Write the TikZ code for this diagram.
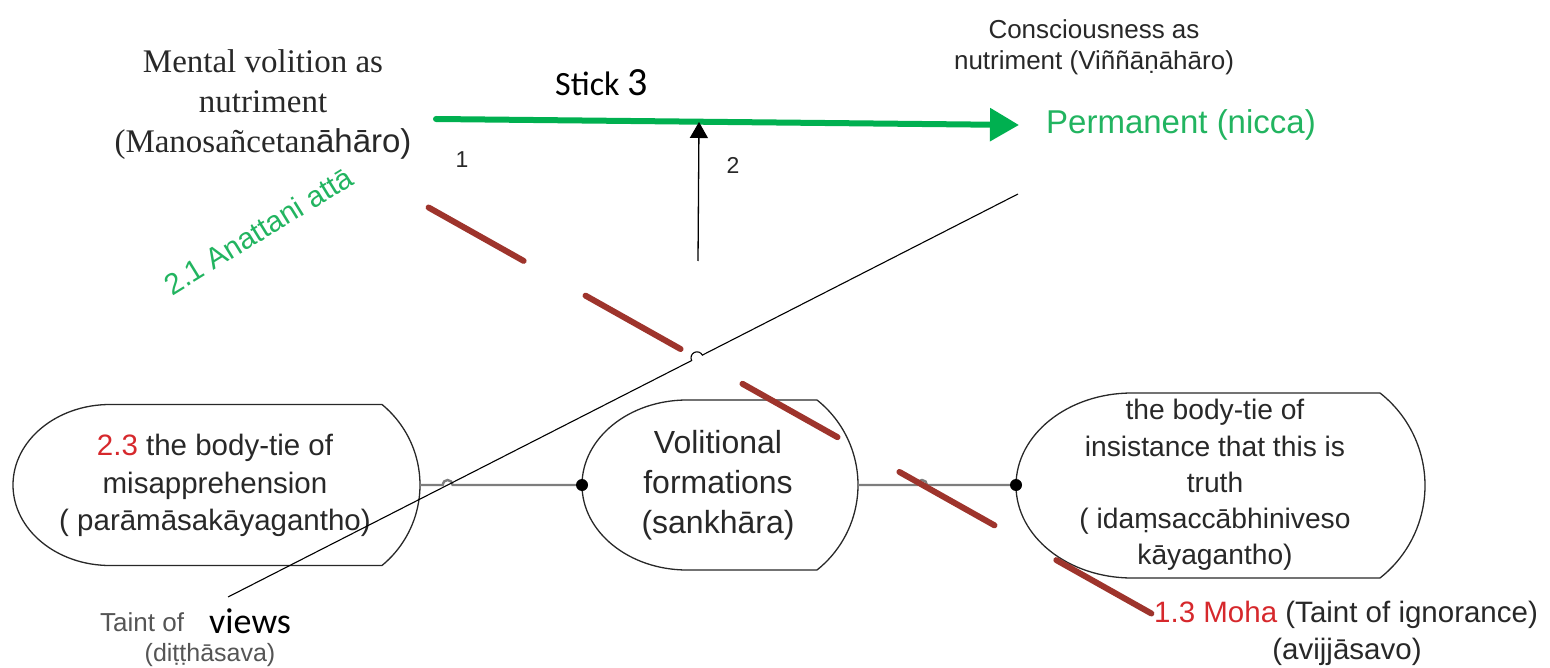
\documentclass[tikz,border=0pt]{standalone}
\usepackage{fontspec}
\setmainfont{Liberation Sans}
\newfontfamily\timesf{Liberation Serif}
\newfontfamily\arialf{Liberation Sans}
\newfontfamily\carlito{Carlito}
\usetikzlibrary{arrows.meta}

\definecolor{edgeink}{RGB}{40,40,40}
\definecolor{linkgray}{RGB}{125,125,125}
\definecolor{rootred}{RGB}{158,52,44}
\definecolor{stickgreen}{RGB}{0,176,80}
\definecolor{textgreen}{RGB}{34,180,96}
\definecolor{labelred}{RGB}{214,40,44}
\definecolor{ink}{RGB}{40,40,40}
\definecolor{softink}{RGB}{85,85,85}

\newcommand\fs[2]{\fontsize{#1}{#2}\selectfont}

% body-tie outline: elliptic left half, flat top/bottom, circular right cap
% #1 leftmost x, #2 start of flat edge, #3 end of flat edge, #4 rightmost x,
% #5 centre y, #6 half height
\newcommand\tieshape[6]{%
  \pgfmathsetmacro\tsrx{#2-#1}%
  \pgfmathsetmacro\tsd{#4-#3}%
  \pgfmathsetmacro\tsr{(\tsd*\tsd+#6*#6)/(2*\tsd)}%
  \pgfmathsetmacro\tsth{atan2(#6,\tsr-\tsd)}%
  \draw[tieedge] (#2,#5-#6) -- (#3,#5-#6)
     arc[start angle=-\tsth, end angle=\tsth, radius=\tsr]
     -- (#2,#5+#6)
     arc[start angle=90, end angle=270, x radius=\tsrx, y radius=#6] -- cycle;
}

\begin{document}
\begin{tikzpicture}[x=1pt, y=-1pt,
  tieedge/.style={draw=edgeink, line width=1.3pt},
  txt/.style={inner sep=0pt, text=ink},
  link/.style={draw=linkgray, line width=2.4pt},
  thinline/.style={draw=black, line width=1.1pt},
  rootline/.style={draw=rootred, line width=6pt, line cap=round,
                   dash pattern=on 109pt off 71pt},
  joint/.style={fill=black}
]
\useasboundingbox (0,0) rectangle (1550,668);

% outlines of the three body-ties
\tieshape{13}{110}{382}{420}{485}{80.5}
\tieshape{582}{687}{817}{858}{485}{85}
\tieshape{1016}{1132}{1380}{1425}{485.5}{92.5}

\coordinate (tieL-e) at (420,485);
\coordinate (tieM-w) at (582,485);
\coordinate (tieM-e) at (858,485);
\coordinate (tieR-w) at (1016,485);

% texts inside the body-ties
\node[txt, font=\fs{29.5}{37.5}, align=center] (tieL-text) at (215,485.5)
  {{\color{labelred}2.3} the body-tie of\\misapprehension\\( parāmāsakāyagantho)};
\node[txt, font=\fs{32}{40}, align=center] (tieM-text) at (718,485)
  {Volitional\\formations\\(sankhāra)};
\node[txt, font=\fs{28.2}{36.2}, align=center] (tieR-text) at (1215,485)
  {the body-tie of\\insistance that this is\\truth\\( idaṃsaccābhiniveso\\kāyagantho)};

% nutriment labels
\node[txt, font=\timesf\fs{33}{40}, align=center] (manos) at (263,105)
  {Mental volition as\\nutriment\\(Manosañcetan{\arialf āhāro)}};
\node[txt, font=\fs{26}{31}, align=center] (vinn) at (1094,47.5)
  {Consciousness as\\nutriment (Viññāṇāhāro)};
\node[txt, text=textgreen, font=\fs{33}{40}, anchor=west] (nicca) at (1046,125)
  {Permanent (nicca)};
\node[txt, text=black, font=\carlito\fs{34}{40}, anchor=west] (stick) at (555,83)
  {Stick {\fs{40}{40}3}};
\node[txt, font=\fs{23}{28}] (one) at (462,160) {1};
\node[txt, font=\fs{23}{28}] (two) at (733,165) {2};
\node[txt, text=textgreen, font=\fs{29.5}{34}, rotate=31.6] (anatta) at (258,231)
  {2.1 Anattani attā};

% taints
\node[txt, text=softink, font=\fs{26}{31}, anchor=west] (ditthi) at (100,622) {Taint of};
\node[txt, text=black, font=\carlito\fs{36}{40}, anchor=west, fill=white,
      inner xsep=3pt] (views) at (206,621) {views};
\node[txt, text=softink, font=\fs{25}{31}] (ditthi2) at (210,655) {(diṭṭhāsava)};
\node[txt, font=\fs{29.5}{37}, anchor=west] (moha) at (1154,615)
  {{\color{labelred}1.3 Moha} (Taint of ignorance)};
\node[txt, font=\fs{29.5}{37}] (moha2) at (1347,652) {(avijjāsavo)};

% links between the body-ties, hopping over the crossing lines
\coordinate (hopL) at (442.6,485);
\coordinate (hopR) at (917,485);
\draw[link] (tieL-e) -- (hopL) arc[start angle=180, end angle=360, radius=5] -- (tieM-w);
\draw[link] (tieM-e) -- (hopR) arc[start angle=180, end angle=360, radius=5] -- (tieR-w);
\fill[joint] (tieM-w) circle[radius=6];
\fill[joint] (tieR-w) circle[radius=6];

% long diagonal from the taint of views up to consciousness
\coordinate (dgA) at (228,597);
\coordinate (dgH) at (691.65,360.55);
\coordinate (dgB) at (1018,194);
\draw[thinline] (dgA) -- (dgH) arc[start angle=153, end angle=333, radius=6] -- (dgB);

% broken line of ignorance
\coordinate (redA) at (428.6,207.5);
\coordinate (redB) at (1151.4,613.5);
\draw[rootline] (redA) -- (redB);

% stick and its support
\coordinate (gA) at (436,119);
\coordinate (gB) at (1019,125);
\draw[stickgreen, line width=6pt, line cap=round,
      -{Triangle[length=29pt, width=32pt]}] (gA) -- (gB);
\coordinate (arB) at (698,261);
\coordinate (arT) at (699,122);
\draw[black, line width=1.3pt, -{Triangle[length=16pt, width=18pt]}] (arB) -- (arT);
\end{tikzpicture}
\end{document}
